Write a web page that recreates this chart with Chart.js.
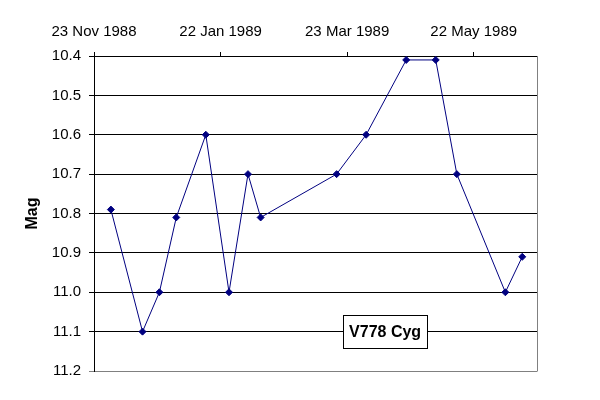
<!DOCTYPE html>
<html>
<head>
<meta charset="utf-8">
<script src="https://cdn.jsdelivr.net/npm/chart.js@4/dist/chart.umd.min.js"></script>
<style>
  html, body { margin: 0; padding: 0; background: #fff; }
</style>
</head>
<body>
<canvas id="lightCurve" width="600" height="400"></canvas>
<script>
const obsDates = ['1988-12-01', '1988-12-16', '1988-12-24', '1989-01-01', '1989-01-15',
                  '1989-01-26', '1989-02-04', '1989-02-10', '1989-03-18', '1989-04-01',
                  '1989-04-20', '1989-05-04', '1989-05-14', '1989-06-06', '1989-06-14'];
const mags = [10.79, 11.10, 11.00, 10.81, 10.60,
              11.00, 10.70, 10.81, 10.70, 10.60,
              10.41, 10.41, 10.70, 11.00, 10.91];

const tickDates = ['1988-11-23', '1989-01-22', '1989-03-23', '1989-05-22'];
const tickLabels = ['23 Nov 1988', '22 Jan 1989', '23 Mar 1989', '22 May 1989'];
const axisEnd = '1989-06-21';

const magMin = 10.4, magMax = 11.2, magStep = 0.1;

const starName = 'V778 Cyg';
const starLabelDate = '1989-04-10';
const starLabelMag = 11.1;

// days since the first tick (no date adapter needed)
const origin = Date.parse(tickDates[0]);
const toDay = s => (Date.parse(s) - origin) / 864e5;
const tickDays = tickDates.map(toDay);

Chart.defaults.font.family = '"Liberation Sans", Arial, sans-serif';
Chart.defaults.color = '#000';

const frameAndLabel = {
  id: 'frameAndLabel',
  beforeDatasetsDraw(chart) {
    const { ctx, chartArea } = chart;
    ctx.save();
    ctx.strokeStyle = '#808080';
    ctx.lineWidth = 1;
    ctx.beginPath();
    ctx.moveTo(Math.round(chartArea.right) + 0.5, chartArea.top);
    ctx.lineTo(Math.round(chartArea.right) + 0.5, Math.round(chartArea.bottom) + 0.5);
    ctx.stroke();
    ctx.restore();
  },
  afterDatasetsDraw(chart) {
    const { ctx, scales } = chart;
    const cx = scales.x.getPixelForValue(toDay(starLabelDate));
    const cy = scales.y.getPixelForValue(starLabelMag);
    ctx.save();
    ctx.font = 'bold 16px "Liberation Sans", Arial, sans-serif';
    const w = Math.round(ctx.measureText(starName).width + 12);
    const h = 33;
    const x0 = Math.round(cx - w / 2) + 0.5, y0 = Math.round(cy - h / 2) + 0.5;
    ctx.fillStyle = '#fff';
    ctx.fillRect(x0, y0, w, h);
    ctx.strokeStyle = '#000';
    ctx.lineWidth = 1;
    ctx.strokeRect(x0, y0, w, h);
    ctx.fillStyle = '#000';
    ctx.textAlign = 'center';
    ctx.textBaseline = 'middle';
    ctx.fillText(starName, cx, cy + 1);
    ctx.restore();
  }
};

new Chart(document.getElementById('lightCurve'), {
  type: 'line',
  data: {
    datasets: [{
      label: starName,
      data: obsDates.map((d, i) => ({ x: toDay(d), y: mags[i] })),
      borderColor: '#000080',
      backgroundColor: '#000080',
      borderWidth: 1,
      pointStyle: 'rectRot',
      pointRadius: 3.5,
      pointBorderWidth: 1,
      tension: 0
    }]
  },
  options: {
    responsive: false,
    devicePixelRatio: 1,
    animation: false,
    layout: { padding: { top: 0, left: 0, right: 63, bottom: 29 } },
    plugins: { legend: { display: false }, tooltip: { enabled: false } },
    scales: {
      x: {
        type: 'linear',
        position: 'top',
        min: 0,
        max: toDay(axisEnd),
        afterBuildTicks: s => { s.ticks = tickDays.map(v => ({ value: v })); },
        afterFit: s => { s.height = 56; },
        ticks: {
          autoSkip: false,
          maxRotation: 0,
          padding: 11,
          font: { size: 15 },
          callback: v => tickLabels[tickDays.indexOf(v)]
        },
        grid: { drawOnChartArea: false, drawTicks: true, tickLength: 4, color: '#000' },
        border: { display: true, color: '#000' }
      },
      y: {
        reverse: true,
        min: magMin,
        max: magMax,
        afterFit: s => { s.width = 94; },
        ticks: {
          stepSize: magStep,
          padding: 8,
          font: { size: 15 },
          callback: v => v.toFixed(1)
        },
        grid: {
          tickLength: 5,
          color: c => (c.tick && Math.abs(c.tick.value - magMax) < 1e-6) ? '#808080' : '#000'
        },
        border: { display: true, color: '#000' },
        title: {
          display: true,
          text: 'Mag',
          font: { size: 16, weight: 'bold' },
          padding: { top: 23, bottom: 0 }
        }
      }
    }
  },
  plugins: [frameAndLabel]
});
</script>
</body>
</html>
